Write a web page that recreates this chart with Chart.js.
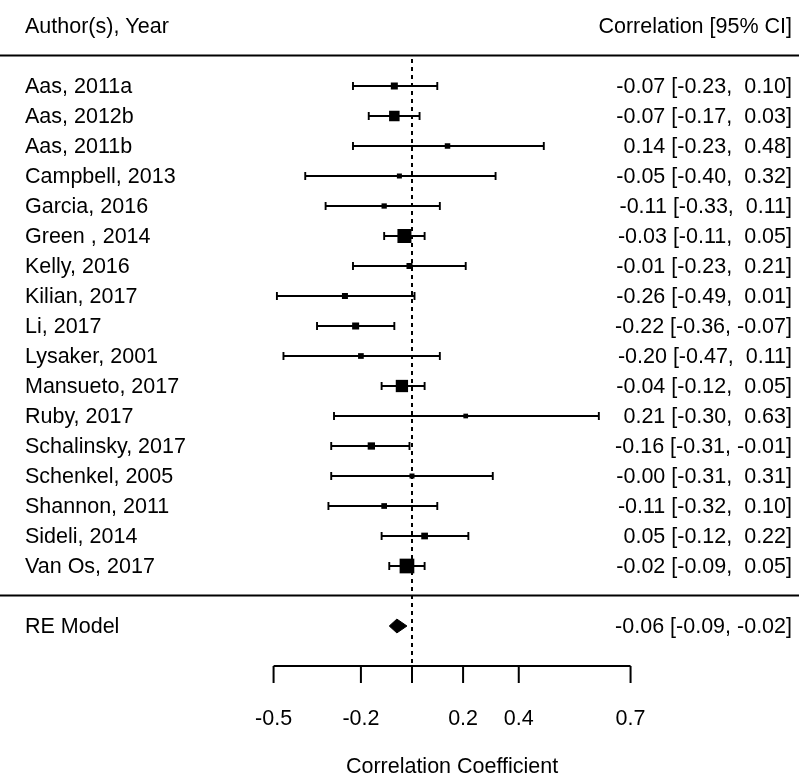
<!DOCTYPE html>
<html>
<head>
<meta charset="utf-8">
<script src="https://cdn.jsdelivr.net/npm/chart.js@4.4.0/dist/chart.umd.min.js"></script>
<style>
  html, body { margin: 0; padding: 0; background: #fff; }
  canvas { display: block; }
</style>
</head>
<body>
<canvas id="chart" width="799" height="779"></canvas>
<script>
// study labels, top to bottom
const studies = ["Aas, 2011a", "Aas, 2012b", "Aas, 2011b", "Campbell, 2013", "Garcia, 2016",
  "Green , 2014", "Kelly, 2016", "Kilian, 2017", "Li, 2017", "Lysaker, 2001", "Mansueto, 2017",
  "Ruby, 2017", "Schalinsky, 2017", "Schenkel, 2005", "Shannon, 2011", "Sideli, 2014", "Van Os, 2017"];
const estimate = [-0.07, -0.07, 0.14, -0.05, -0.11, -0.03, -0.01, -0.26, -0.22, -0.20, -0.04, 0.21, -0.16, -0.00, -0.11, 0.05, -0.02];
const lower = [-0.23, -0.17, -0.23, -0.40, -0.33, -0.11, -0.23, -0.49, -0.36, -0.47, -0.12, -0.30, -0.31, -0.31, -0.32, -0.12, -0.09];
const upper = [0.10, 0.03, 0.48, 0.32, 0.11, 0.05, 0.21, 0.01, -0.07, 0.11, 0.05, 0.63, -0.01, 0.31, 0.10, 0.22, 0.05];
// square side in px (study weight)
const boxSize = [7, 10.5, 5.5, 5, 5.3, 14, 6, 6, 7, 5.7, 12.3, 4.7, 7.3, 5, 5.7, 6.7, 14.7];

const reLabel = "RE Model";
const reEstimate = -0.06, reLower = -0.09, reUpper = -0.02;

const tickValues = [-0.5, -0.2, 0, 0.2, 0.4, 0.7];
const tickLabels = ["-0.5", "-0.2", "", "0.2", "0.4", "0.7"];

const FONT = '21.5px "Liberation Sans", Arial, sans-serif';
const k = studies.length;
const rowOf = i => k - i;          // first study on row k
const z = r => Math.atanh(r);      // axis is on Fisher z scale
const fmt = v => ((v < 0 || Object.is(v, -0)) ? "-" : " ") + Math.abs(v).toFixed(2);
const ciText = (e, lo, hi) => `${fmt(e)} [${fmt(lo)}, ${fmt(hi)}]`;
const TY = 1.5; // nudge text down a bit

const datasets = [];

// point estimates
datasets.push({
  data: estimate.map((e, i) => ({ x: z(e), y: rowOf(i) })),
  pointStyle: 'rect',
  pointRadius: boxSize.map(s => s / Math.SQRT2),
  backgroundColor: '#000',
  borderWidth: 0,
  showLine: false
});

// confidence intervals
studies.forEach((s, i) => {
  datasets.push({
    data: [{ x: z(lower[i]), y: rowOf(i) }, { x: z(upper[i]), y: rowOf(i) }],
    showLine: true,
    borderColor: '#000',
    borderWidth: 1.9,
    pointStyle: 'line',
    rotation: 90,
    pointRadius: 4,
    pointBorderWidth: 1.9,
    pointBorderColor: '#000'
  });
});

// summary diamond
const reRow = -1;
datasets.push({
  data: [
    { x: z(reLower), y: reRow }, { x: z(reEstimate), y: reRow + 0.23 },
    { x: z(reUpper), y: reRow }, { x: z(reEstimate), y: reRow - 0.23 },
    { x: z(reLower), y: reRow }
  ],
  showLine: true,
  fill: 'shape',
  backgroundColor: '#000',
  borderColor: '#000',
  borderWidth: 1,
  pointRadius: 0
});

// reference line at 0
const axisRow = -2.33;
datasets.push({
  data: [{ x: 0, y: k + 0.9 }, { x: 0, y: axisRow }],
  showLine: true,
  borderColor: '#000',
  borderWidth: 2,
  borderDash: [4, 4],
  pointRadius: 0
});

const decor = {
  id: 'decor',
  afterDatasetsDraw(chart) {
    const { ctx, scales: { x, y }, width } = chart;
    ctx.save();
    ctx.fillStyle = '#000';
    ctx.strokeStyle = '#000';
    ctx.font = FONT;
    ctx.textBaseline = 'middle';

    // header
    ctx.textAlign = 'left';
    ctx.fillText("Author(s), Year", 25, y.getPixelForValue(k + 2) + TY);
    ctx.textAlign = 'right';
    ctx.fillText("Correlation [95% CI]", 792, y.getPixelForValue(k + 2) + TY);

    // rules
    ctx.lineWidth = 2;
    [k + 1, 0].forEach(r => {
      const py = Math.round(y.getPixelForValue(r)) - 0.5;
      ctx.beginPath();
      ctx.moveTo(0, py);
      ctx.lineTo(width, py);
      ctx.stroke();
    });

    // rows
    studies.forEach((s, i) => {
      const py = y.getPixelForValue(rowOf(i)) + TY;
      ctx.textAlign = 'left';
      ctx.fillText(s, 25, py);
      ctx.textAlign = 'right';
      ctx.fillText(ciText(estimate[i], lower[i], upper[i]), 792, py);
    });
    const pyRe = y.getPixelForValue(reRow) + TY;
    ctx.textAlign = 'left';
    ctx.fillText(reLabel, 25, pyRe);
    ctx.textAlign = 'right';
    ctx.fillText(ciText(reEstimate, reLower, reUpper), 792, pyRe);

    // x axis
    const ay = Math.round(y.getPixelForValue(axisRow));
    const x0 = x.getPixelForValue(z(tickValues[0]));
    const x1 = x.getPixelForValue(z(tickValues[tickValues.length - 1]));
    ctx.beginPath();
    ctx.moveTo(x0, ay);
    ctx.lineTo(x1, ay);
    tickValues.forEach(t => {
      const px = x.getPixelForValue(z(t));
      ctx.moveTo(px, ay);
      ctx.lineTo(px, ay + 17);
    });
    ctx.stroke();
    ctx.textAlign = 'center';
    tickValues.forEach((t, i) => {
      ctx.fillText(tickLabels[i], x.getPixelForValue(z(t)), ay + 52 + TY);
    });
    ctx.fillText("Correlation Coefficient", (x0 + x1) / 2, ay + 100 + TY);
    ctx.restore();
  }
};

new Chart(document.getElementById('chart'), {
  type: 'scatter',
  data: { datasets },
  options: {
    responsive: false,
    devicePixelRatio: 1,
    animation: false,
    layout: { padding: 0, autoPadding: false },
    plugins: { legend: { display: false }, tooltip: { enabled: false } },
    scales: {
      x: { type: 'linear', display: false, min: -412 / 252, max: 387 / 252 },
      y: { type: 'linear', display: false, min: -6.1, max: 19.8667 }
    }
  },
  plugins: [decor]
});
</script>
</body>
</html>
